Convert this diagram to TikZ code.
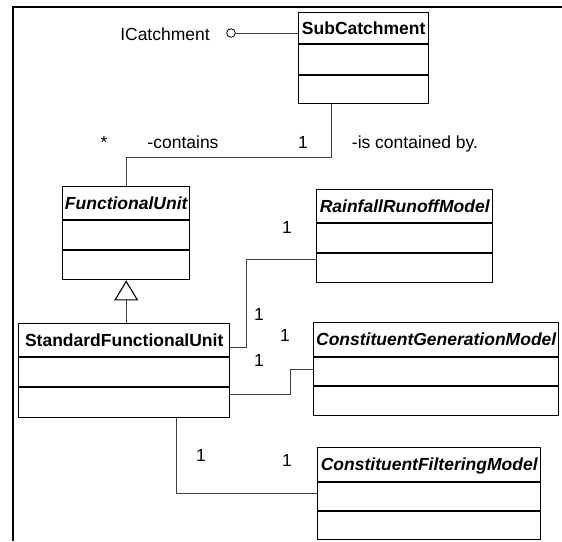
\documentclass[tikz,border=0pt]{standalone}
\usepackage{fontspec}
\setmainfont{Liberation Sans}
\usetikzlibrary{arrows.meta}

\tikzset{
    classbox/.style={draw, line width=1.4pt, anchor=north west, inner sep=0pt},
    headtext/.style={font=\bfseries, inner sep=0pt, text height=12.5pt, text depth=0pt},
    abstracthead/.style={font=\bfseries\itshape, inner sep=0pt, text height=12.5pt, text depth=0pt},
    plaintext/.style={inner sep=0pt, text height=12.5pt, text depth=0pt},
    compline/.style={line width=1.4pt},
    assoc/.style={line width=0.9pt, color=black!75},
    realize/.style={line width=0.9pt, color=black!75},
    gen/.style={line width=0.9pt, color=black!75, -{Triangle[open, length=20pt, width=24pt, line width=1.1pt, color=black]}},
}

\begin{document}
\fontsize{17.5}{21}\selectfont
\begin{tikzpicture}[x=1pt, y=-1pt]

    \useasboundingbox (0, 0) rectangle (562, 541);

    \draw[line width=2pt] (13, 541) -- (13, 7) -- (562, 7);

    \node[classbox, minimum width=130pt, minimum height=91pt] (sub) at (298, 12) {};
    \node[headtext, yshift=-16pt] (subname) at (sub.north) {SubCatchment};
    \draw[compline] ([yshift=-32pt]sub.north west) -- ([yshift=-32pt]sub.north east);
    \draw[compline] ([yshift=-63pt]sub.north west) -- ([yshift=-63pt]sub.north east);

    \node[classbox, minimum width=127pt, minimum height=93pt] (fu) at (62, 186) {};
    \node[abstracthead, yshift=-17pt] (funame) at (fu.north) {FunctionalUnit};
    \draw[compline] ([yshift=-34pt]fu.north west) -- ([yshift=-34pt]fu.north east);
    \draw[compline] ([yshift=-64pt]fu.north west) -- ([yshift=-64pt]fu.north east);

    \node[classbox, minimum width=176pt, minimum height=93pt] (rrm) at (316, 189) {};
    \node[abstracthead, yshift=-17pt] (rrmname) at (rrm.north) {RainfallRunoffModel};
    \draw[compline] ([yshift=-34pt]rrm.north west) -- ([yshift=-34pt]rrm.north east);
    \draw[compline] ([yshift=-64pt]rrm.north west) -- ([yshift=-64pt]rrm.north east);

    \node[classbox, minimum width=211pt, minimum height=94pt] (sfu) at (18, 323) {};
    \node[headtext, yshift=-17pt] (sfuname) at (sfu.north) {StandardFunctionalUnit};
    \draw[compline] ([yshift=-34pt]sfu.north west) -- ([yshift=-34pt]sfu.north east);
    \draw[compline] ([yshift=-64pt]sfu.north west) -- ([yshift=-64pt]sfu.north east);

    \node[classbox, minimum width=245pt, minimum height=93pt] (cgm) at (313, 322) {};
    \node[abstracthead, yshift=-17pt] (cgmname) at (cgm.north) {ConstituentGenerationModel};
    \draw[compline] ([yshift=-35pt]cgm.north west) -- ([yshift=-35pt]cgm.north east);
    \draw[compline] ([yshift=-64pt]cgm.north west) -- ([yshift=-64pt]cgm.north east);

    \node[classbox, minimum width=223pt, minimum height=92pt] (cfm) at (317, 447) {};
    \node[abstracthead, yshift=-17pt] (cfmname) at (cfm.north) {ConstituentFilteringModel};
    \draw[compline] ([yshift=-35pt]cfm.north west) -- ([yshift=-35pt]cfm.north east);
    \draw[compline] ([yshift=-64pt]cfm.north west) -- ([yshift=-64pt]cfm.north east);

    \node[plaintext] (icname) at (165, 34) {ICatchment};
    \node[draw, circle, line width=0.8pt, minimum size=8.6pt, inner sep=0pt] (ic) at (231, 33) {};
    \draw[realize] (ic) -- (sub.west |- ic);

    \coordinate (bendsub) at (331, 157);
    \draw[assoc] (fu.north) |- (bendsub) -- (sub.south -| bendsub);
    \node[plaintext] (manystar) at (104, 142) {*};
    \node[plaintext] (rolecontains) at (183, 142) {-contains};
    \node[plaintext] (onesub) at (303, 142) {1};
    \node[plaintext] (rolecontained) at (415, 142) {-is contained by.};

    \draw[gen] (fu.south |- sfu.north) -- (fu.south);

    \coordinate (bendrrma) at (246, 347);
    \coordinate (bendrrmb) at (246, 259);
    \draw[assoc] (sfu.east |- bendrrma) -- (bendrrma) -- (bendrrmb) -- (rrm.west |- bendrrmb);
    \node[plaintext] (onerrm) at (287, 227) {1};
    \node[plaintext] (onesfua) at (259, 314) {1};

    \coordinate (bendcgma) at (290, 394);
    \coordinate (bendcgmb) at (290, 369);
    \draw[assoc] (sfu.east |- bendcgma) -- (bendcgma) -- (bendcgmb) -- (cgm.west |- bendcgmb);
    \node[plaintext] (onecgm) at (285, 335) {1};
    \node[plaintext] (onesfub) at (259, 360) {1};

    \coordinate (bendcfm) at (176, 493);
    \draw[assoc] (sfu.south -| bendcfm) -- (bendcfm) -- (cfm.west |- bendcfm);
    \node[plaintext] (onesfuc) at (201, 455) {1};
    \node[plaintext] (onecfm) at (287, 460) {1};

\end{tikzpicture}
\end{document}
